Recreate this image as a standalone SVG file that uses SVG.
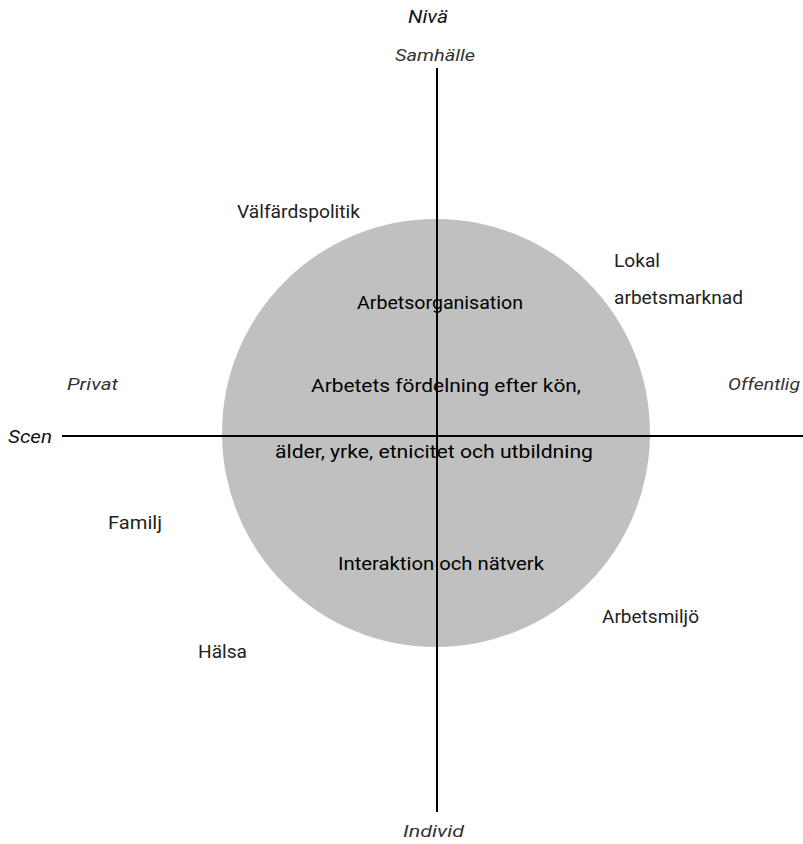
<svg xmlns="http://www.w3.org/2000/svg" width="803" height="844" viewBox="0 0 803 844">
<style>
text{font-family:Roboto,"Liberation Sans",sans-serif;font-size:18.5px;fill:#222}
.ax{font-style:italic;fill:#333;font-size:17px}
.axb{font-style:italic;fill:#111;font-size:19px}
.in{fill:#000}
.line{stroke:#000;stroke-width:2;fill:none}
</style>
<rect width="803" height="844" fill="#fff"/>
<g id="circle"><circle cx="436" cy="433" r="214" fill="#c0c0c0"/></g>
<g id="connectors">
<line class="line" x1="437" y1="68" x2="437" y2="812"/>
<line class="line" x1="62" y1="436" x2="803" y2="436"/>
</g>
<g id="axis-labels">
<text class="axb" x="408" y="23" textLength="40" lengthAdjust="spacingAndGlyphs">Nivä</text>
<text class="ax" x="395" y="61" textLength="80" lengthAdjust="spacingAndGlyphs">Samhälle</text>
<text class="ax" x="403" y="837" textLength="61" lengthAdjust="spacingAndGlyphs">Individ</text>
<text class="axb" x="8" y="443" textLength="44" lengthAdjust="spacingAndGlyphs">Scen</text>
<text class="ax" x="67" y="390" textLength="51" lengthAdjust="spacingAndGlyphs">Privat</text>
<text class="ax" x="728" y="390" textLength="72" lengthAdjust="spacingAndGlyphs">Offentlig</text>
</g>
<g id="inner">
<text class="in" x="357" y="309" textLength="166" lengthAdjust="spacingAndGlyphs">Arbetsorganisation</text>
<text class="in" x="311" y="392" textLength="270" lengthAdjust="spacingAndGlyphs">Arbetets fördelning efter kön,</text>
<text class="in" x="275" y="458" textLength="318" lengthAdjust="spacingAndGlyphs">älder, yrke, etnicitet och utbildning</text>
<text class="in" x="338" y="570" textLength="206" lengthAdjust="spacingAndGlyphs">Interaktion och nätverk</text>
</g>
<g id="outer">
<text x="237" y="218" textLength="123" lengthAdjust="spacingAndGlyphs">Välfärdspolitik</text>
<text x="614" y="267" textLength="46" lengthAdjust="spacingAndGlyphs">Lokal</text>
<text x="614" y="304" textLength="129" lengthAdjust="spacingAndGlyphs">arbetsmarknad</text>
<text x="108" y="529" textLength="54" lengthAdjust="spacingAndGlyphs">Familj</text>
<text x="602" y="623" textLength="97" lengthAdjust="spacingAndGlyphs">Arbetsmiljö</text>
<text x="198" y="658" textLength="49" lengthAdjust="spacingAndGlyphs">Hälsa</text>
</g>
</svg>
